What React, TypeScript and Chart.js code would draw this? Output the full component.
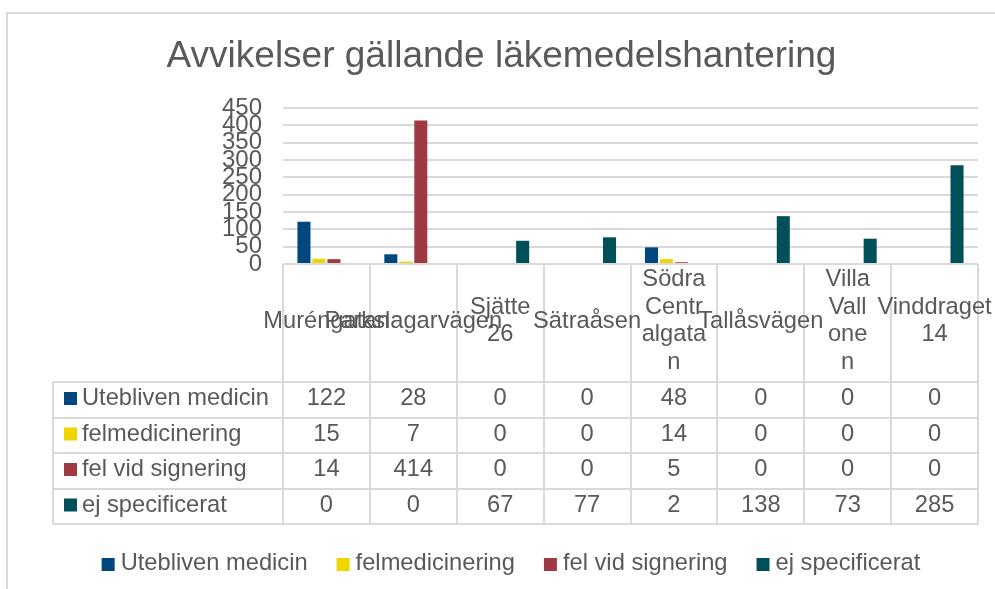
import React, { useEffect, useRef } from "react";
import { Chart, registerables } from "chart.js";

Chart.register(...registerables);

const title = "Avvikelser gällande läkemedelshantering";
const categories: string[][] = [
  ["Muréngatan"],
  ["Parkslagarvägen"],
  ["Sjätte", "26"],
  ["Sätraåsen"],
  ["Södra", "Centr", "algata", "n"],
  ["Tallåsvägen"],
  ["Villa", "Vall", "one", "n"],
  ["Vinddraget", "14"],
];
const seriesNames = ["Utebliven medicin", "felmedicinering", "fel vid signering", "ej specificerat"];
const seriesColors = ["#00467F", "#F0D400", "#9D3A42", "#005059"];
const utebliven = [122, 28, 0, 0, 48, 0, 0, 0];
const felmedicinering = [15, 7, 0, 0, 14, 0, 0, 0];
const felVidSignering = [14, 414, 0, 0, 5, 0, 0, 0];
const ejSpecificerat = [0, 0, 67, 77, 2, 138, 73, 285];
const seriesValues = [utebliven, felmedicinering, felVidSignering, ejSpecificerat];
const yTicksMax = 450;
const yTicksStep = 50;

const FONT = "'Liberation Sans', Arial, sans-serif";
const TEXT = "#595959";
const LINE = "#d9d9d9";

const tablePlugin = {
  id: "excelTable",
  afterDraw(chart: any) {
    const ctx: CanvasRenderingContext2D = chart.ctx;
    const area = chart.chartArea;
    const x = chart.scales.x;
    const n = categories.length;
    const colW = (area.right - area.left) / n;
    ctx.save();

    // outer border
    ctx.strokeStyle = LINE;
    ctx.lineWidth = 2;
    ctx.strokeRect(7, 13, 1100, 800);

    // title
    ctx.fillStyle = TEXT;
    ctx.font = `37px ${FONT}`;
    ctx.textAlign = "center";
    ctx.textBaseline = "alphabetic";
    ctx.fillText(title, 501.5, 67);

    // table geometry
    const top = area.bottom;
    const headerBottom = 382;
    const rowH = 35.5;
    const tableLeft = 53;
    const rows = seriesNames.length;
    const tableBottom = headerBottom + rows * rowH;

    ctx.strokeStyle = LINE;
    ctx.lineWidth = 2;
    ctx.beginPath();
    ctx.moveTo(area.left, top);
    ctx.lineTo(area.right, top);
    for (let i = 0; i <= n; i++) {
      const cx = Math.round(area.left + i * colW);
      ctx.moveTo(cx, top);
      ctx.lineTo(cx, tableBottom);
    }
    ctx.moveTo(tableLeft, headerBottom);
    ctx.lineTo(tableLeft, tableBottom);
    for (let r = 0; r <= rows; r++) {
      const y = Math.round(headerBottom + r * rowH);
      ctx.moveTo(tableLeft, y);
      ctx.lineTo(area.right, y);
    }
    ctx.stroke();

    // category labels
    ctx.font = `23.7px ${FONT}`;
    ctx.fillStyle = TEXT;
    ctx.textAlign = "center";
    const lh = 27.5;
    categories.forEach((lines, i) => {
      const cx = x.getPixelForValue(i);
      lines.forEach((ln, j) => {
        const by = 327.5 + (j - (lines.length - 1) / 2) * lh;
        ctx.fillText(ln, cx, by);
      });
    });

    // rows
    seriesNames.forEach((name, r) => {
      const rowTop = headerBottom + r * rowH;
      const by = rowTop + 23;
      ctx.fillStyle = seriesColors[r];
      ctx.fillRect(64, rowTop + 10, 13, 13);
      ctx.fillStyle = TEXT;
      ctx.textAlign = "left";
      ctx.fillText(name, 82, by);
      ctx.textAlign = "center";
      seriesValues[r].forEach((v, i) => {
        ctx.fillText(String(v), x.getPixelForValue(i), by);
      });
    });

    // legend
    const gapMarker = 6;
    const gapItem = 29;
    const mk = 13;
    const widths = seriesNames.map((s) => ctx.measureText(s).width);
    const total = widths.reduce((a, w) => a + mk + gapMarker + w, 0) + gapItem * (seriesNames.length - 1);
    let lx = 511 - total / 2;
    ctx.textAlign = "left";
    seriesNames.forEach((s, i) => {
      ctx.fillStyle = seriesColors[i];
      ctx.fillRect(lx, 558, mk, mk);
      ctx.fillStyle = TEXT;
      ctx.fillText(s, lx + mk + gapMarker, 570);
      lx += mk + gapMarker + widths[i] + gapItem;
    });

    ctx.restore();
  },
};

export default function App() {
  const ref = useRef<HTMLCanvasElement | null>(null);
  useEffect(() => {
    document.body.style.margin = "0";
    const canvas = ref.current!;
    const chart = new Chart(canvas, {
      type: "bar",
      data: {
        labels: categories.map((c) => c.join(" ")),
        datasets: seriesNames.map((name, i) => ({
          label: name,
          data: seriesValues[i],
          backgroundColor: seriesColors[i],
          borderWidth: 0,
          categoryPercentage: 0.69,
          barPercentage: 0.87,
        })),
      },
      options: {
        responsive: false,
        animation: false,
        devicePixelRatio: 1,
        layout: { padding: { left: 0, top: 108, right: 17, bottom: 325 } },
        plugins: {
          legend: { display: false },
          title: { display: false },
          tooltip: { enabled: false },
        },
        scales: {
          x: { display: false },
          y: {
            min: 0,
            max: yTicksMax,
            border: { display: false },
            grid: { color: LINE, lineWidth: 2, drawTicks: false },
            ticks: {
              stepSize: yTicksStep,
              autoSkip: false,
              padding: 21,
              color: TEXT,
              font: { family: FONT, size: 24 },
            },
            afterFit: (scale: any) => {
              scale.width = 283;
            },
          },
        },
      },
      plugins: [tablePlugin],
    });
    return () => chart.destroy();
  }, []);
  return (
    <div style={{ width: 995, height: 589, background: "#fff" }}>
      <canvas ref={ref} width={995} height={589} style={{ display: "block" }} />
    </div>
  );
}
